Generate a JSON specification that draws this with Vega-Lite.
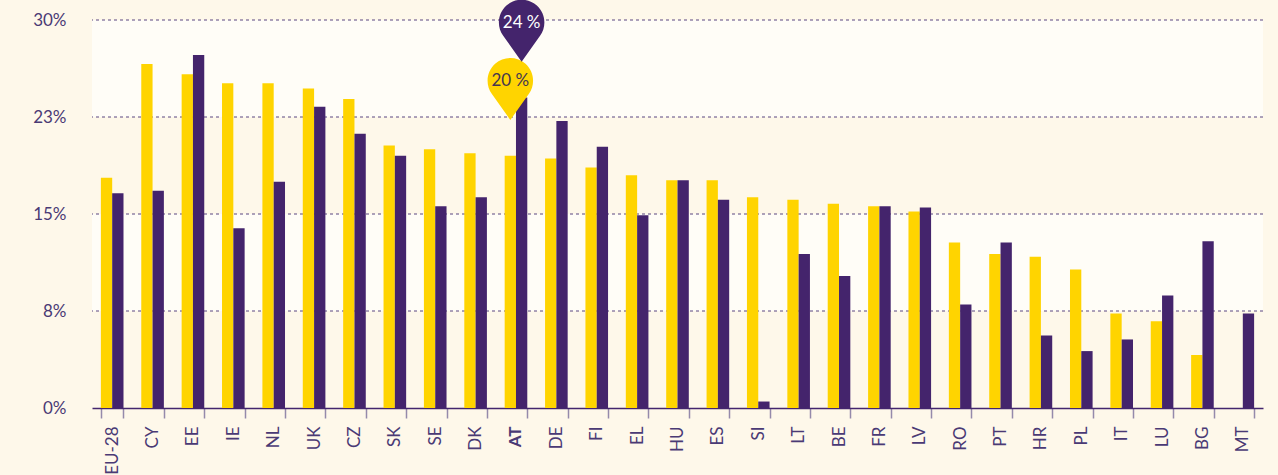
{
  "$schema": "https://vega.github.io/schema/vega-lite/v6.json",
  "width": 1171,
  "height": 388,
  "autosize": {"type": "none"},
  "padding": {"left": 92, "top": 20, "right": 15, "bottom": 67},
  "background": "#fef8ea",
  "config": {"view": {"stroke": null}, "font": "Lato"},
  "datasets": {
    "bars": [
      {"country": "EU-28", "series": "Series 1", "value": 17.8}, {"country": "EU-28", "series": "Series 2", "value": 16.6},
      {"country": "CY", "series": "Series 1", "value": 26.6}, {"country": "CY", "series": "Series 2", "value": 16.8},
      {"country": "EE", "series": "Series 1", "value": 25.8}, {"country": "EE", "series": "Series 2", "value": 27.3},
      {"country": "IE", "series": "Series 1", "value": 25.1}, {"country": "IE", "series": "Series 2", "value": 13.9},
      {"country": "NL", "series": "Series 1", "value": 25.1}, {"country": "NL", "series": "Series 2", "value": 17.5},
      {"country": "UK", "series": "Series 1", "value": 24.7}, {"country": "UK", "series": "Series 2", "value": 23.3},
      {"country": "CZ", "series": "Series 1", "value": 23.9}, {"country": "CZ", "series": "Series 2", "value": 21.2},
      {"country": "SK", "series": "Series 1", "value": 20.3}, {"country": "SK", "series": "Series 2", "value": 19.5},
      {"country": "SE", "series": "Series 1", "value": 20.0}, {"country": "SE", "series": "Series 2", "value": 15.6},
      {"country": "DK", "series": "Series 1", "value": 19.7}, {"country": "DK", "series": "Series 2", "value": 16.3},
      {"country": "AT", "series": "Series 1", "value": 19.5}, {"country": "AT", "series": "Series 2", "value": 24.0},
      {"country": "DE", "series": "Series 1", "value": 19.3}, {"country": "DE", "series": "Series 2", "value": 22.2},
      {"country": "FI", "series": "Series 1", "value": 18.6}, {"country": "FI", "series": "Series 2", "value": 20.2},
      {"country": "EL", "series": "Series 1", "value": 18.0}, {"country": "EL", "series": "Series 2", "value": 14.9},
      {"country": "HU", "series": "Series 1", "value": 17.6}, {"country": "HU", "series": "Series 2", "value": 17.6},
      {"country": "ES", "series": "Series 1", "value": 17.6}, {"country": "ES", "series": "Series 2", "value": 16.1},
      {"country": "SI", "series": "Series 1", "value": 16.3}, {"country": "SI", "series": "Series 2", "value": 0.5},
      {"country": "LT", "series": "Series 1", "value": 16.1}, {"country": "LT", "series": "Series 2", "value": 11.9},
      {"country": "BE", "series": "Series 1", "value": 15.8}, {"country": "BE", "series": "Series 2", "value": 10.2},
      {"country": "FR", "series": "Series 1", "value": 15.6}, {"country": "FR", "series": "Series 2", "value": 15.6},
      {"country": "LV", "series": "Series 1", "value": 15.2}, {"country": "LV", "series": "Series 2", "value": 15.5},
      {"country": "RO", "series": "Series 1", "value": 12.8}, {"country": "RO", "series": "Series 2", "value": 8.0},
      {"country": "PT", "series": "Series 1", "value": 11.9}, {"country": "PT", "series": "Series 2", "value": 12.8},
      {"country": "HR", "series": "Series 1", "value": 11.7}, {"country": "HR", "series": "Series 2", "value": 5.6},
      {"country": "PL", "series": "Series 1", "value": 10.7}, {"country": "PL", "series": "Series 2", "value": 4.4},
      {"country": "IT", "series": "Series 1", "value": 7.3}, {"country": "IT", "series": "Series 2", "value": 5.3},
      {"country": "LU", "series": "Series 1", "value": 6.7}, {"country": "LU", "series": "Series 2", "value": 8.7},
      {"country": "BG", "series": "Series 1", "value": 4.1}, {"country": "BG", "series": "Series 2", "value": 12.9},
      {"country": "MT", "series": "Series 1", "value": 0}, {"country": "MT", "series": "Series 2", "value": 7.3}
    ],
    "bands": [{"lo": 7.5, "hi": 15}, {"lo": 22.5, "hi": 30}],
    "grid": [{"v": 7.5}, {"v": 15}, {"v": 22.5}, {"v": 30}]
  },
  "layer": [
    {
      "data": {"name": "bands"},
      "mark": {"type": "rect", "color": "#fffdf7"},
      "encoding": {
        "y": {
          "field": "hi", "type": "quantitative",
          "scale": {"domain": [0, 30], "nice": false},
          "axis": {
            "title": null, "values": [0, 7.5, 15, 22.5, 30],
            "labelExpr": "format(datum.value, '.0f') + '%'",
            "grid": false, "domain": false, "ticks": false,
            "labelPadding": 26, "labelFont": "Lato", "labelFontSize": 17, "labelColor": "#4a3a75"
          }
        },
        "y2": {"field": "lo"},
        "x": {"value": 0},
        "x2": {"value": "width"}
      }
    },
    {
      "data": {"name": "grid"},
      "mark": {"type": "rule", "color": "#5a4680", "strokeWidth": 1, "strokeDash": [3, 3]},
      "encoding": {
        "y": {
          "field": "v", "type": "quantitative",
          "axis": {
            "title": null, "values": [0, 7.5, 15, 22.5, 30],
            "labelExpr": "format(datum.value, '.0f') + '%'",
            "grid": false, "domain": false, "ticks": false,
            "labelPadding": 26, "labelFont": "Lato", "labelFontSize": 17, "labelColor": "#4a3a75"
          }
        }
      }
    },
    {
      "data": {"name": "bars"},
      "mark": {"type": "bar"},
      "encoding": {
        "x": {
          "field": "country", "type": "nominal", "sort": null,
          "scale": {"paddingInner": 0.44, "paddingOuter": 0.22},
          "axis": {
            "title": null, "labelAngle": -90, "tickBand": "extent",
            "tickSize": 10, "tickColor": "#958aab", "tickWidth": 1.5,
            "domainColor": "#44266e", "domainWidth": 1.5,
            "labelFont": "Lato", "labelFontSize": 17, "labelColor": "#4a3a75", "labelPadding": 8,
            "labelFontWeight": {"condition": {"test": "datum.value === 'AT'", "value": "bold"}, "value": "normal"}
          }
        },
        "xOffset": {"field": "series", "type": "nominal", "sort": ["Series 1", "Series 2"], "scale": {"paddingInner": 0}},
        "y": {
          "field": "value", "type": "quantitative",
          "axis": {
            "title": null, "values": [0, 7.5, 15, 22.5, 30],
            "labelExpr": "format(datum.value, '.0f') + '%'",
            "grid": false, "domain": false, "ticks": false,
            "labelPadding": 26, "labelFont": "Lato", "labelFontSize": 17, "labelColor": "#4a3a75"
          }
        },
        "color": {
          "field": "series", "type": "nominal",
          "scale": {"domain": ["Series 1", "Series 2"], "range": ["#ffd400", "#44246c"]},
          "legend": null
        }
      }
    },
    {
      "data": {"name": "bars"},
      "transform": [{"filter": "datum.country === 'AT'"}],
      "mark": {
        "type": "point", "filled": true, "opacity": 1, "size": 2070, "yOffset": -75,
        "shape": "M0,1.72 L-0.81,0.58 A1,1 0 1,1 0.81,0.58 Z"
      },
      "encoding": {
        "x": {"field": "country", "type": "nominal", "sort": null},
        "xOffset": {"field": "series", "type": "nominal", "sort": ["Series 1", "Series 2"]},
        "y": {
          "field": "value", "type": "quantitative",
          "axis": {
            "title": null, "values": [0, 7.5, 15, 22.5, 30],
            "labelExpr": "format(datum.value, '.0f') + '%'",
            "grid": false, "domain": false, "ticks": false,
            "labelPadding": 26, "labelFont": "Lato", "labelFontSize": 17, "labelColor": "#4a3a75"
          }
        },
        "color": {"field": "series", "type": "nominal", "legend": null}
      }
    },
    {
      "data": {"name": "bars"},
      "transform": [
        {"filter": "datum.country === 'AT'"},
        {"calculate": "format(datum.value, '.0f') + ' %'", "as": "label"}
      ],
      "mark": {"type": "text", "fontSize": 17, "font": "Lato", "yOffset": -75, "baseline": "middle", "align": "center"},
      "encoding": {
        "x": {"field": "country", "type": "nominal", "sort": null},
        "xOffset": {"field": "series", "type": "nominal", "sort": ["Series 1", "Series 2"]},
        "y": {
          "field": "value", "type": "quantitative",
          "axis": {
            "title": null, "values": [0, 7.5, 15, 22.5, 30],
            "labelExpr": "format(datum.value, '.0f') + '%'",
            "grid": false, "domain": false, "ticks": false,
            "labelPadding": 26, "labelFont": "Lato", "labelFontSize": 17, "labelColor": "#4a3a75"
          }
        },
        "text": {"field": "label"},
        "color": {"condition": {"test": "datum.series === 'Series 2'", "value": "#ffffff"}, "value": "#45364f"}
      }
    }
  ]
}
